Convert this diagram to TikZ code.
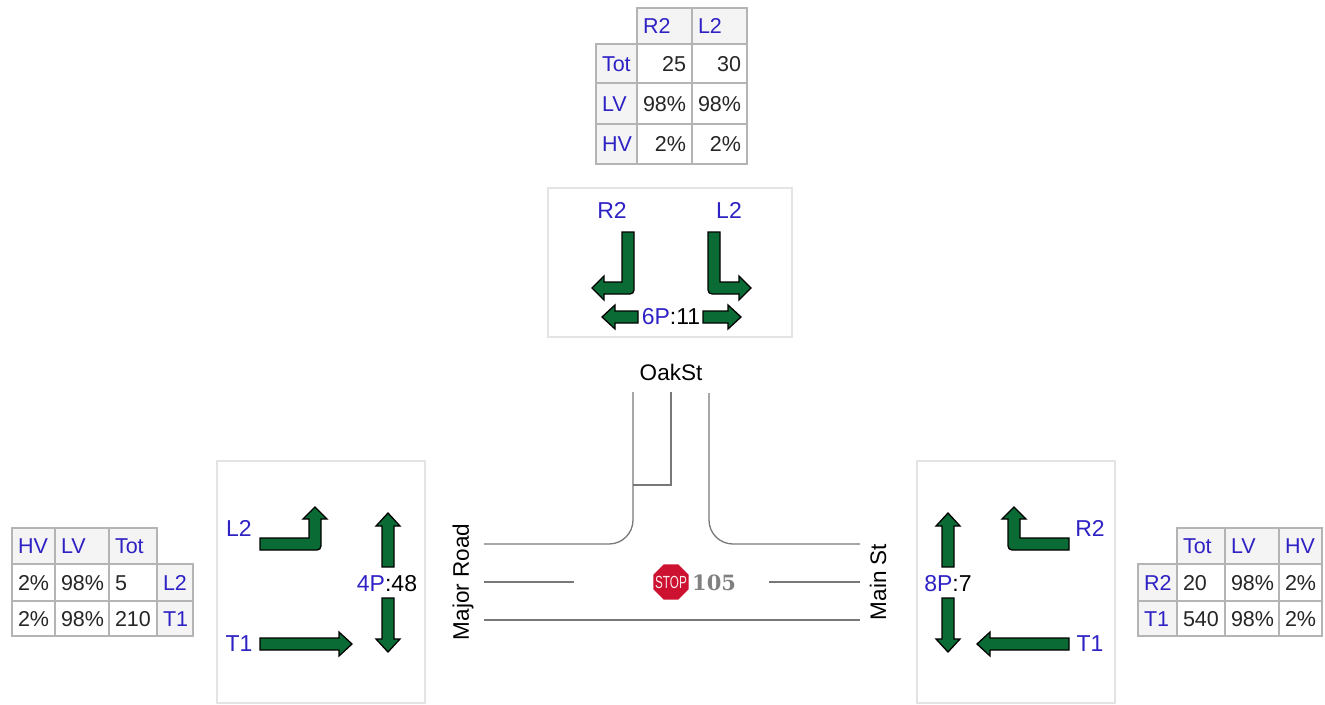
\documentclass[tikz,border=0pt]{standalone}
\usepackage{fontspec}
\setmainfont{Liberation Sans}
\newfontfamily\signfont{DejaVu Serif}
\usetikzlibrary{shapes.geometric}
\definecolor{labelblue}{HTML}{2F22C4}
\definecolor{cellgray}{HTML}{B4B4B4}
\definecolor{headgray}{HTML}{F4F4F4}
\definecolor{boxgray}{HTML}{E4E4E4}
\definecolor{roadgray}{HTML}{787878}
\definecolor{movegreen}{HTML}{0A6B35}
\definecolor{stopred}{HTML}{CC1230}
\tikzset{
  tabcell/.style={draw=cellgray,line width=1.4pt,inner xsep=6pt,inner ysep=0pt,font=\fontsize{21.5}{24}\selectfont,text height=15pt,text depth=0pt},
  headcell/.style={tabcell,fill=headgray,text=labelblue},
  datacell/.style={tabcell,fill=white,text=black!85},
  movelabel/.style={font=\fontsize{23}{26}\selectfont,text=labelblue,inner sep=0pt},
  roadlabel/.style={font=\fontsize{22.5}{26}\selectfont,inner sep=0pt},
  movebox/.style={draw=boxgray,line width=1.3pt},
  roadline/.style={draw=roadgray,line width=1.3pt},
  movearrow/.style={fill=movegreen,draw=black,line width=1.3pt,line join=miter},
  pics/linearrow/.style={code={
    \draw[movearrow] (0,-6) -- (#1-13,-6) -- (#1-13,-12) -- (#1,0) -- (#1-13,12) -- (#1-13,6) -- (0,6) -- cycle;
  }},
  pics/turnarrow/.style 2 args={code={
    \draw[movearrow] (0,-6) -- (#1-6,-6) -- (#1-6,12-#2) -- (#1-12,12-#2) -- (#1,-#2) -- (#1+12,12-#2) -- (#1+6,12-#2) [rounded corners=4pt] -- (#1+6,6) [sharp corners] -- (0,6) -- cycle;
  }}
}
\begin{document}
\begin{tikzpicture}[x=1pt,y=-1pt]
  \useasboundingbox (0,0) rectangle (1325,704);

  % Top table
  \node[headcell,text width=43pt,minimum height=36pt] (topR) at (664.5,26) {R2};
  \node[headcell,text width=43pt,minimum height=36pt] (topL) at (719.5,26) {L2};
  \node[headcell,text width=29pt,minimum height=39pt] (topTot) at (616.5,63.5) {Tot};
  \node[datacell,text width=43pt,minimum height=39pt,align=right] (topTotR) at (664.5,63.5) {25};
  \node[datacell,text width=43pt,minimum height=39pt,align=right] (topTotL) at (719.5,63.5) {30};
  \node[headcell,text width=29pt,minimum height=41pt] (topLV) at (616.5,103.5) {LV};
  \node[datacell,text width=43pt,minimum height=41pt,align=right] (topLVR) at (664.5,103.5) {98\%};
  \node[datacell,text width=43pt,minimum height=41pt,align=right] (topLVL) at (719.5,103.5) {98\%};
  \node[headcell,text width=29pt,minimum height=40pt] (topHV) at (616.5,144) {HV};
  \node[datacell,text width=43pt,minimum height=40pt,align=right] (topHVR) at (664.5,144) {2\%};
  \node[datacell,text width=43pt,minimum height=40pt,align=right] (topHVL) at (719.5,144) {2\%};

  % Left table
  \node[headcell,text width=31pt,minimum height=36pt] (leftHV) at (33.5,546) {HV};
  \node[headcell,text width=42pt,minimum height=36pt] (leftLV) at (82,546) {LV};
  \node[headcell,text width=36pt,minimum height=36pt] (leftTot) at (133,546) {Tot};
  \node[datacell,text width=31pt,minimum height=37pt] (leftLHV) at (33.5,582.5) {2\%};
  \node[datacell,text width=42pt,minimum height=37pt] (leftLLV) at (82,582.5) {98\%};
  \node[datacell,text width=36pt,minimum height=37pt] (leftLTot) at (133,582.5) {5};
  \node[headcell,text width=24pt,minimum height=37pt] (leftL) at (175,582.5) {L2};
  \node[datacell,text width=31pt,minimum height=35pt] (leftTHV) at (33.5,618.5) {2\%};
  \node[datacell,text width=42pt,minimum height=35pt] (leftTLV) at (82,618.5) {98\%};
  \node[datacell,text width=36pt,minimum height=35pt] (leftTTot) at (133,618.5) {210};
  \node[headcell,text width=24pt,minimum height=35pt] (leftT) at (175,618.5) {T1};

  % Right table
  \node[headcell,text width=36pt,minimum height=36pt] (rightTot) at (1201,546) {Tot};
  \node[headcell,text width=42pt,minimum height=36pt] (rightLV) at (1252,546) {LV};
  \node[headcell,text width=31pt,minimum height=36pt] (rightHV) at (1300.5,546) {HV};
  \node[headcell,text width=27pt,minimum height=37pt] (rightR) at (1157.5,582.5) {R2};
  \node[datacell,text width=36pt,minimum height=37pt] (rightRTot) at (1201,582.5) {20};
  \node[datacell,text width=42pt,minimum height=37pt] (rightRLV) at (1252,582.5) {98\%};
  \node[datacell,text width=31pt,minimum height=37pt] (rightRHV) at (1300.5,582.5) {2\%};
  \node[headcell,text width=27pt,minimum height=35pt] (rightT) at (1157.5,618.5) {T1};
  \node[datacell,text width=36pt,minimum height=35pt] (rightTTot) at (1201,618.5) {540};
  \node[datacell,text width=42pt,minimum height=35pt] (rightTLV) at (1252,618.5) {98\%};
  \node[datacell,text width=31pt,minimum height=35pt] (rightTHV) at (1300.5,618.5) {2\%};

  % Movement boxes
  \draw[movebox] (548,188) rectangle (792,337);
  \draw[movebox] (217,461) rectangle (425,703);
  \draw[movebox] (917,461) rectangle (1115,703);

  % Top movements
  \node[movelabel] (moveTopR) at (612,210) {R2};
  \node[movelabel] (moveTopL) at (729,210) {L2};
  \pic[rotate=-90,yscale=-1] at (628,232) {turnarrow={56}{36}};
  \pic[rotate=-90] at (714,232) {turnarrow={56}{37}};
  \node[movelabel] (pedTop) at (671,317) {6P\textcolor{black}{:11}};
  \pic[rotate=180] at (638,317) {linearrow=36};
  \pic at (703,317) {linearrow=38};

  % Left movements
  \node[movelabel] (moveLeftL) at (239,528) {L2};
  \node[movelabel] (moveLeftT) at (239,644) {T1};
  \pic at (260,544) {turnarrow={55}{37}};
  \pic at (260,644) {linearrow=92};
  \node[movelabel] (pedLeft) at (387,584) {4P\textcolor{black}{:48}};
  \pic[rotate=90] at (388,567) {linearrow=54};
  \pic[rotate=-90] at (388,598) {linearrow=54};

  % Right movements
  \node[movelabel] (moveRightR) at (1090,528) {R2};
  \node[movelabel] (moveRightT) at (1090,644) {T1};
  \pic[rotate=180,yscale=-1] at (1069,544) {turnarrow={55}{37}};
  \pic[rotate=180] at (1069,644) {linearrow=92};
  \node[movelabel] (pedRight) at (948,584) {8P\textcolor{black}{:7}};
  \pic[rotate=90] at (948,567) {linearrow=54};
  \pic[rotate=-90] at (948,598) {linearrow=54};

  % Road
  \draw[roadline] (633,392) -- (633,520) to[out=-90,in=0] (609,544) -- (484,544);
  \draw[roadline] (671,392) -- (671,485) -- (633,485);
  \draw[roadline] (709,393) -- (709,520) to[out=-90,in=180] (733,544) -- (860,544);
  \draw[roadline] (484,582) -- (574,582);
  \draw[roadline] (769,582) -- (860,582);
  \draw[roadline] (484,620) -- (860,620);

  \node[roadlabel] (oakSt) at (671,372) {OakSt};
  \node[roadlabel,rotate=90] (majorRoad) at (463,582) {Major Road};
  \node[roadlabel,rotate=90] (mainSt) at (878,582) {Main St};

  % Stop sign
  \node[regular polygon,regular polygon sides=8,fill=stopred,text=white!90!stopred,minimum size=38pt,inner sep=0pt,font=\fontsize{13}{15}\selectfont] (stopSign) at (671,582) {\makebox[0pt]{\smash{\raisebox{-6pt}{\scalebox{0.9}[1.35]{STOP}}}}};
  \node[inner sep=0pt,text=gray,font=\signfont\bfseries\fontsize{21}{24}\selectfont,anchor=west] (delay) at (692,583) {105};
\end{tikzpicture}
\end{document}
